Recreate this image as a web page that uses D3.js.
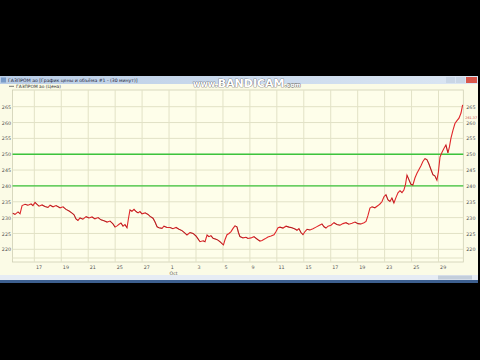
<!DOCTYPE html>
<html><head><meta charset="utf-8">
<script src="https://cdn.jsdelivr.net/npm/d3@7"></script>
<style>body{margin:0;background:#000;}svg{display:block;}</style>
</head><body>
<svg id="c" width="480" height="360"></svg>
<script>
// ---- data ----
const tickDays = [0,2,4,6,8,10,12,14,16,18,20,22,24,26,28,30];
const tickLabels = ["17","19","21","25","27","1","3","5","9","11","15","17","19","23","25","29"];
const monthLabel = {day:10, text:"Oct"};
const priceTicks = [220,225,230,235,240,245,250,255,260,265];
const levelLines = [240,250];
const lastPriceLabel = "261.37";
const barTime = [-1.60,-1.43,-1.21,-1.06,-0.91,-0.69,-0.47,-0.24,-0.10,0.05,
0.20,0.35,0.57,0.79,1.02,1.17,1.39,1.61,1.91,2.13,
2.35,2.58,2.80,2.95,3.09,3.24,3.39,3.61,3.84,4.06,
4.28,4.50,4.73,4.95,5.17,5.40,5.62,5.84,5.99,6.14,
6.29,6.43,6.58,6.73,6.88,6.99,7.10,7.25,7.40,7.55,
7.70,7.84,7.99,8.22,8.44,8.59,8.81,8.96,9.11,9.25,
9.48,9.62,9.85,10.07,10.29,10.52,10.74,10.96,11.18,11.33,
11.55,11.78,12.00,12.15,12.30,12.52,12.67,12.82,12.96,13.11,
13.26,13.48,13.63,13.78,13.93,14.04,14.15,14.30,14.45,14.60,
14.75,14.89,15.04,15.15,15.26,15.49,15.71,15.86,16.08,16.30,
16.45,16.60,16.75,16.90,17.12,17.34,17.57,17.79,17.94,18.09,
18.23,18.46,18.68,18.90,19.12,19.35,19.50,19.64,19.79,19.94,
20.09,20.24,20.46,20.68,20.91,21.13,21.35,21.50,21.65,21.80,
22.02,22.24,22.46,22.69,22.91,23.13,23.35,23.58,23.80,24.02,
24.24,24.47,24.62,24.76,24.91,25.06,25.28,25.51,25.65,25.80,
25.95,26.10,26.25,26.40,26.54,26.69,26.84,26.99,27.14,27.29,
27.43,27.55,27.66,27.81,27.95,28.10,28.25,28.40,28.55,28.70,
28.84,28.99,29.14,29.29,29.44,29.59,29.73,29.88,29.99,30.11,
30.26,30.40,30.55,30.70,30.81,30.92,31.07,31.22,31.37,31.52,
31.67,31.79];
const closePrice = [231.4,231.0,231.8,231.2,233.8,234.2,233.9,234.3,233.8,234.8,
234.2,233.6,234.0,233.5,233.2,233.9,233.4,233.8,233.1,233.4,
232.6,232.1,231.4,230.9,229.6,229.1,229.9,229.5,230.3,229.9,
230.2,229.6,230.0,229.3,229.0,228.6,228.9,228.0,227.0,227.4,
227.9,228.3,227.3,227.8,226.8,229.8,232.4,232.0,232.6,231.9,
231.5,231.9,231.2,231.5,231.0,230.4,229.8,228.6,227.1,226.8,
226.6,227.3,226.9,226.9,226.5,226.9,226.3,225.9,225.1,224.5,
225.3,225.0,224.2,223.3,222.4,222.7,222.4,224.5,224.0,224.3,
223.5,223.2,222.9,222.4,221.8,221.4,223.0,224.6,225.0,225.6,
226.6,227.4,227.1,225.3,224.0,223.6,223.8,223.4,223.6,224.0,
223.5,223.0,222.6,222.8,223.3,223.9,224.2,224.6,225.6,226.8,
227.0,226.7,227.3,227.0,226.8,226.4,226.0,226.5,225.3,224.6,
225.6,226.3,226.1,226.5,227.0,227.5,228.0,227.1,226.7,227.3,
227.6,228.4,227.8,227.6,228.1,228.4,227.9,228.2,228.6,228.1,
228.0,228.4,228.8,230.6,233.0,233.4,233.1,233.8,234.3,235.0,
236.6,237.2,235.6,235.1,236.2,234.6,236.3,237.8,238.5,237.9,
238.7,240.5,243.4,241.9,240.5,240.3,242.5,244.0,245.2,246.4,
247.7,248.6,248.3,246.9,245.2,243.5,243.2,241.8,244.4,249.1,
250.6,251.8,252.9,250.4,252.3,255.0,257.5,259.7,260.6,261.4,
263.0,265.6];
const titleText = "ГАЗПРОМ ао [График цены и объёма #1 - (30 минут)]";
const legendText = "ГАЗПРОМ ао (Цена)";

// ---- layout ----
const svg = d3.select("#c");
const P = {l:12.5, r:463.3, t:90, b:262};
const x = d3.scaleLinear().domain([-1.62, 31.84]).range([P.l, P.r]);
const y = d3.scaleLinear().domain([220, 265]).range([249.3, 106.7]);
const F = "DejaVu Sans, sans-serif";

// window
svg.append("rect").attr("x",0).attr("y",76).attr("width",478).attr("height",207).attr("fill","#fbfbe6");
const defs = svg.append("defs");
const g1 = defs.append("linearGradient").attr("id","tb").attr("x1",0).attr("x2",1);
g1.append("stop").attr("offset",0).attr("stop-color","#b9cde6");
g1.append("stop").attr("offset",1).attr("stop-color","#dbe6f3");
svg.append("rect").attr("x",0).attr("y",76).attr("width",478).attr("height",8).attr("fill","url(#tb)");
svg.append("rect").attr("x",1).attr("y",77.5).attr("width",5).attr("height",5).attr("fill","#7a9cc8");
svg.append("text").attr("x",8).attr("y",82.3).attr("font-family",F).attr("font-size",4.6).attr("fill","#223").text(titleText);
// window buttons
[446,456].forEach(bx=>svg.append("rect").attr("x",bx).attr("y",77).attr("width",9).attr("height",6).attr("fill","#c9d6e6"));
svg.append("rect").attr("x",466).attr("y",77).attr("width",11).attr("height",6).attr("fill","#d8564a");

// legend
svg.append("line").attr("x1",9).attr("x2",14).attr("y1",86.3).attr("y2",86.3).attr("stroke","#555").attr("stroke-width",0.8);
svg.append("text").attr("x",16).attr("y",88).attr("font-family",F).attr("font-size",4.4).attr("fill","#333").text(legendText);

// plot area
svg.append("rect").attr("x",P.l).attr("y",P.t).attr("width",P.r-P.l).attr("height",P.b-P.t)
  .attr("fill","#fefeea").attr("stroke","#cfcfb4").attr("stroke-width",0.8);

// grid
svg.append("g").selectAll("line").data(priceTicks).join("line")
  .attr("x1",P.l).attr("x2",P.r).attr("y1",d=>y(d)).attr("y2",d=>y(d))
  .attr("stroke","#e2e2c6").attr("stroke-width",1);
svg.append("g").selectAll("line").data(tickDays).join("line")
  .attr("x1",d=>x(d)).attr("x2",d=>x(d)).attr("y1",P.t).attr("y2",P.b)
  .attr("stroke","#e2e2c6").attr("stroke-width",1);

// level lines
svg.append("g").selectAll("line").data(levelLines).join("line")
  .attr("x1",P.l).attr("x2",P.r).attr("y1",d=>y(d)).attr("y2",d=>y(d))
  .attr("stroke","#3cc43c").attr("stroke-width",1.4);

// axes labels (right & left)
const yAxisR = d3.axisRight(y).tickValues(priceTicks).tickSize(0).tickPadding(3);
const ga = svg.append("g").attr("transform",`translate(${P.r},0)`).call(yAxisR);
ga.select(".domain").remove();
ga.selectAll("text").attr("font-family",F).attr("font-size",4.8).attr("fill","#555");
const yAxisL = d3.axisLeft(y).tickValues(priceTicks).tickSize(0).tickPadding(1.5);
const gl = svg.append("g").attr("transform",`translate(${P.l},0)`).call(yAxisL);
gl.select(".domain").remove();
gl.selectAll("text").attr("font-family",F).attr("font-size",4.8).attr("fill","#555");

// x axis
svg.append("line").attr("x1",P.l).attr("x2",P.r).attr("y1",258).attr("y2",258).attr("stroke","#e2e2c6");
svg.append("g").selectAll("text").data(tickDays).join("text")
  .attr("x",d=>x(d)+1.6).attr("y",269).attr("font-family",F).attr("font-size",4.8).attr("fill","#555")
  .text((d,i)=>tickLabels[i]);
svg.append("text").attr("x",x(monthLabel.day)+0.5).attr("y",274.5).attr("font-family",F).attr("font-size",4.6).attr("fill","#555").text(monthLabel.text);

// price line
const data = d3.zip(barTime, closePrice);
svg.append("path").datum(data)
  .attr("d", d3.line().x(d=>x(d[0])).y(d=>y(d[1])))
  .attr("fill","none").attr("stroke","#e0262a").attr("stroke-width",1.1).attr("stroke-linejoin","miter");
// darker falling segments
const falls = data.slice(1).map((d,i)=>[data[i],d]).filter(s=>s[1][1]<s[0][1]);
svg.append("g").selectAll("line").data(falls).join("line")
  .attr("x1",s=>x(s[0][0])).attr("y1",s=>y(s[0][1])).attr("x2",s=>x(s[1][0])).attr("y2",s=>y(s[1][1]))
  .attr("stroke","#6a1414").attr("stroke-width",0.7).attr("opacity",0.55);

// last price label
svg.append("text").attr("x",P.r+2).attr("y",y(261.4)+1.2).attr("font-family",F).attr("font-size",3.4).attr("fill","#c44").text(lastPriceLabel);

// bottom scroll bar
svg.append("rect").attr("x",0).attr("y",275).attr("width",478).attr("height",5).attr("fill","#e6ecf4");
svg.append("rect").attr("x",438).attr("y",275.5).attr("width",34).attr("height",4).attr("fill","#c3cedb");
svg.append("rect").attr("x",0).attr("y",280).attr("width",478).attr("height",3).attr("fill","#3d5f8f");

// watermark
const wm = svg.append("text").attr("x",193).attr("y",86.5).attr("font-family","DejaVu Sans, sans-serif")
  .attr("font-weight","bold").attr("fill","#fff").attr("stroke","#555").attr("stroke-width",0.7).attr("paint-order","stroke");
wm.append("tspan").attr("font-size",8).text("www.");
wm.append("tspan").attr("font-size",11).text("BANDICAM");
wm.append("tspan").attr("font-size",6).text(".com");
</script>
</body></html>
